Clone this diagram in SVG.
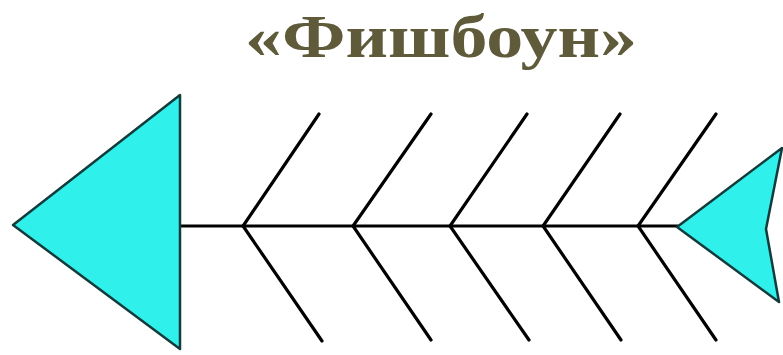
<svg xmlns="http://www.w3.org/2000/svg" width="783" height="355" viewBox="0 0 783 355">
<style>
.bone{stroke:#000;stroke-width:3.2;fill:none;stroke-linecap:round}
.fin{fill:#30f0ec;stroke:#123c3c;stroke-width:2.5;stroke-linejoin:round}
.title{font-family:"Liberation Serif","DejaVu Serif",serif;font-weight:bold;fill:#5f5a3a}
</style>
<rect width="783" height="355" fill="#fff"/>
<g id="title"><text class="title" x="441" y="57" font-size="61" text-anchor="middle" textLength="392" lengthAdjust="spacingAndGlyphs">«Фишбоун»</text></g>
<g id="connectors">
<line class="bone" x1="180" y1="226" x2="678" y2="226"/>
<path class="bone" d="M319 114L243 226L322 341M431 114L353 226L431 340M527 114L450 226L529 340M620 114L543 226L621 340M716 114L638 226L716 340"/>
</g>
<g id="head"><polygon class="fin" points="13,225 180,95 180,349"/></g>
<g id="tail"><polygon class="fin" points="677,227 782,148 766,229 779,302"/></g>
</svg>
